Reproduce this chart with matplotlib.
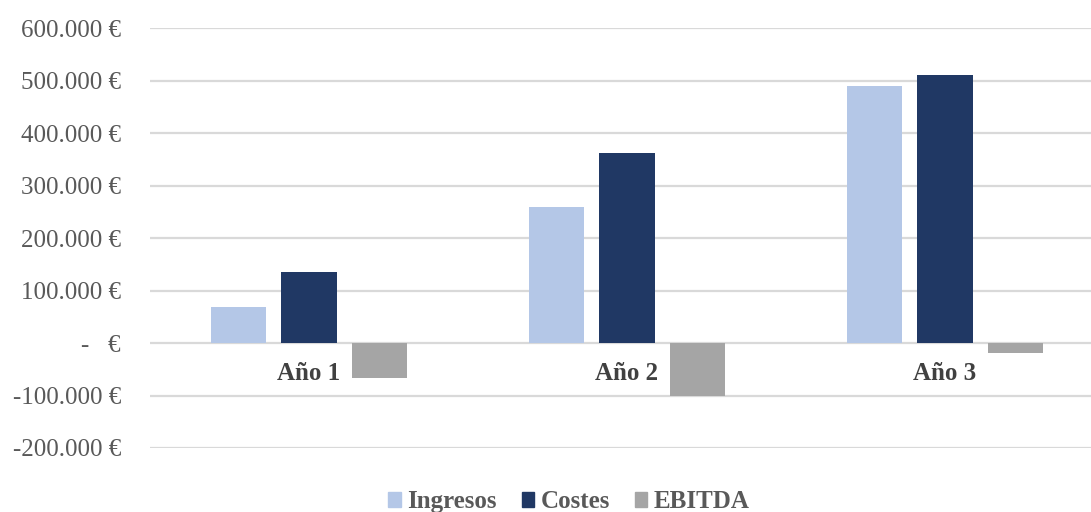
import matplotlib

matplotlib.use("Agg")
import matplotlib.pyplot as plt
from matplotlib.patches import Patch
from matplotlib.ticker import FuncFormatter
import numpy as np

years = ["Año 1", "Año 2", "Año 3"]
ingresos = [68600, 259000, 489500]
costes = [135800, 361000, 511000]
ebitda = [-67300, -100300, -19700]
y_ticks = [-200000, -100000, 0, 100000, 200000, 300000, 400000, 500000, 600000]

series = [
    ("Ingresos", ingresos, "#B4C7E7"),
    ("Costes", costes, "#203864"),
    ("EBITDA", ebitda, "#A5A5A5"),
]

plt.rcParams["font.family"] = ["Liberation Serif", "DejaVu Serif"]


def euro(value, _pos):
    if value == 0:
        return "-   €"
    return f"{value:,.0f} €".replace(",", ".")


fig = plt.figure(figsize=(10.91, 5.12), dpi=100)
ax = fig.add_axes([0.1375, 0.125, 0.8744, 0.8203])

x = np.arange(len(years))
width = 0.175
offset = 0.222
for k, (name, values, color) in enumerate(series):
    ax.bar(x + (k - 1) * offset, values, width=width, color=color, zorder=3)

ax.set_xlim(-0.5, 2.5)
ax.set_ylim(-200000, 600000)
ax.set_yticks(y_ticks)
ax.yaxis.set_major_formatter(FuncFormatter(euro))
ax.set_xticks([])
ax.tick_params(axis="y", length=0, pad=21, labelsize=18, labelcolor="#595959")
ax.grid(axis="y", color="#D9D9D9", linewidth=1.6, zorder=0)
for spine in ax.spines.values():
    spine.set_visible(False)

# category names sit just under the zero line
for i, year in enumerate(years):
    ax.annotate(year, (i, 0), xytext=(0, -30), textcoords="offset pixels",
                ha="center", va="center", fontsize=18, fontweight="bold",
                color="#404040")

handles = [Patch(color=color, label=name) for name, _, color in series]
fig.legend(handles=handles, loc="center", bbox_to_anchor=(0.5215, 0.02),
           ncol=3, frameon=False, handlelength=0.5, handleheight=0.5,
           handletextpad=0.25, columnspacing=1.0,
           prop={"size": 18, "weight": "bold"}, labelcolor="#595959")

fig.savefig("out.png", dpi=100)
